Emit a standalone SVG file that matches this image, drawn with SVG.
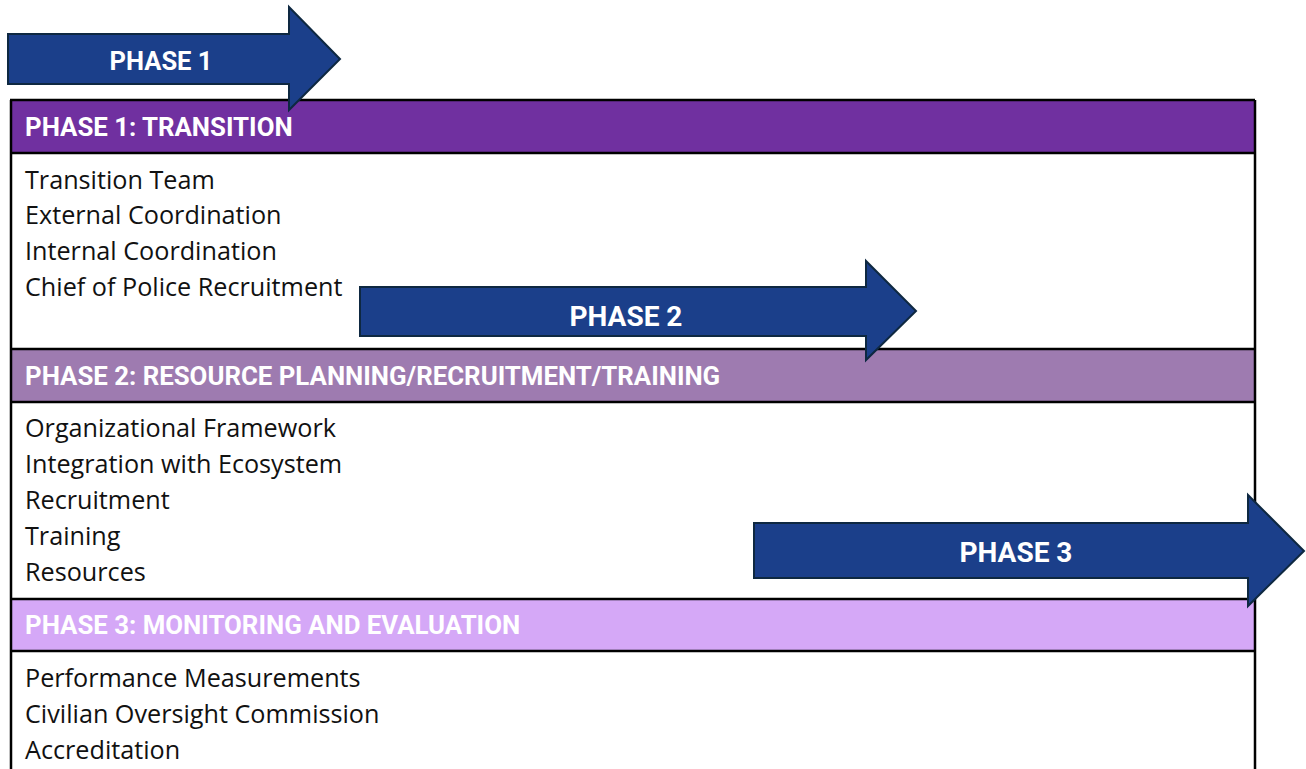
<svg xmlns="http://www.w3.org/2000/svg" width="1306" height="769" viewBox="0 0 1306 769">
<style>
.hdr{font-family:Roboto,"Liberation Sans",sans-serif;font-weight:bold;font-size:25.8px;fill:#ffffff}
.item{font-family:"Open Sans","Liberation Sans",sans-serif;font-size:25.2px;fill:#111111}
.arrow{fill:#1B3F8A;stroke:#0E2841;stroke-width:2}
.alabel{font-family:Roboto,"Liberation Sans",sans-serif;font-weight:bold;fill:#ffffff;text-anchor:middle}
.line{stroke:#000;stroke-width:2.5;fill:none}
</style>
<rect width="1306" height="769" fill="#ffffff"/>
<g id="table">
<rect x="10" y="100" width="1245" height="53" fill="#7030A0"/>
<rect x="10" y="349" width="1245" height="53" fill="#9E7BB0"/>
<rect x="10" y="599" width="1245" height="52" fill="#D5A8F7"/>
<path class="line" d="M11 100 V769 M1255 100 V769 M10 100 H1255 M10 153 H1255 M10 349 H1255 M10 402 H1255 M10 599 H1255 M10 651 H1255"/>
</g>
<g id="phase1">
<text class="hdr" x="25" y="136">PHASE 1: TRANSITION</text>
<text class="item" x="25" y="189">Transition Team</text>
<text class="item" x="25" y="224">External Coordination</text>
<text class="item" x="25" y="260">Internal Coordination</text>
<text class="item" x="25" y="296">Chief of Police Recruitment</text>
</g>
<g id="phase2">
<text class="hdr" x="25" y="385">PHASE 2: RESOURCE PLANNING/RECRUITMENT/TRAINING</text>
<text class="item" x="25" y="437">Organizational Framework</text>
<text class="item" x="25" y="473">Integration with Ecosystem</text>
<text class="item" x="25" y="509">Recruitment</text>
<text class="item" x="25" y="545">Training</text>
<text class="item" x="25" y="581">Resources</text>
</g>
<g id="phase3">
<text class="hdr" x="25" y="634">PHASE 3: MONITORING AND EVALUATION</text>
<text class="item" x="25" y="687">Performance Measurements</text>
<text class="item" x="25" y="723">Civilian Oversight Commission</text>
<text class="item" x="25" y="759">Accreditation</text>
</g>
<g id="arrows">
<g id="arrow1">
<path class="arrow" d="M8 34 H289 V7 L340 59 L289 110 V84 H8 Z"/>
<text class="alabel" x="161" y="70" font-size="25.5px">PHASE 1</text>
</g>
<g id="arrow2">
<path class="arrow" d="M360 287 H866 V261 L916 311 L866 360 V336 H360 Z"/>
<text class="alabel" x="626" y="326" font-size="28px">PHASE 2</text>
</g>
<g id="arrow3">
<path class="arrow" d="M754 523 H1248 V495 L1304 551 L1248 606 V578 H754 Z"/>
<text class="alabel" x="1016" y="562" font-size="28px">PHASE 3</text>
</g>
</g>
</svg>
